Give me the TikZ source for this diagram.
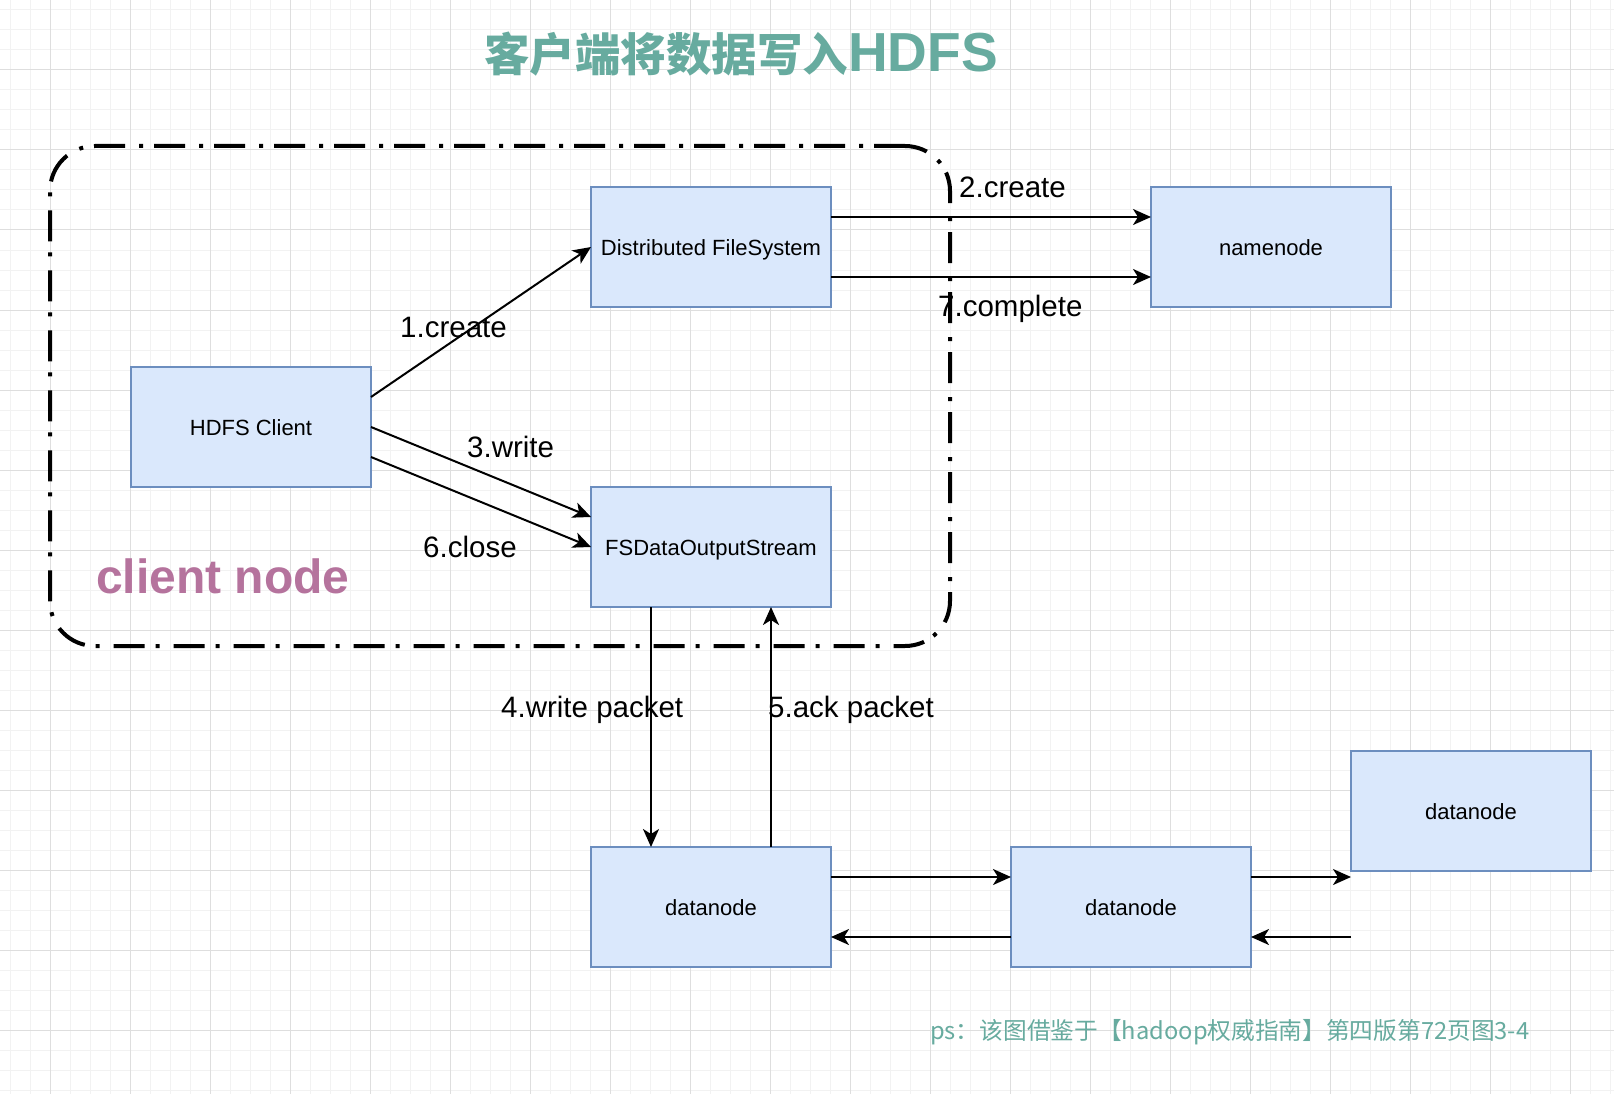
\documentclass[tikz,border=0pt]{standalone}
\usepackage{fontspec}
\setmainfont{Liberation Sans}
\newfontfamily\cjk{Noto Sans CJK SC}
\usetikzlibrary{arrows.meta,calc}
\definecolor{boxfill}{HTML}{DAE8FC}
\definecolor{boxline}{HTML}{6C8EBF}
\definecolor{titlegreen}{HTML}{67AB9F}
\definecolor{nodepurple}{HTML}{B5739D}
\definecolor{gridminor}{HTML}{F2F2F2}
\definecolor{gridmajor}{HTML}{DEDEDE}
\begin{document}
\begin{tikzpicture}[x=1pt,y=-1pt,
  box/.style={draw=boxline, fill=boxfill, line width=2pt, minimum width=240pt, minimum height=120pt,
    inner sep=0pt, outer sep=0pt, font=\fontsize{22}{26}\selectfont, text height=16pt, text depth=0pt},
  conn/.style={line width=2pt, -{Stealth[length=18pt,width=16pt,inset=5pt]}},
  elabel/.style={font=\fontsize{29.5}{34}\selectfont, anchor=base west, inner sep=0pt},
  container/.style={draw, line width=4pt, rounded corners=45pt, minimum width=900pt, minimum height=500pt,
    inner sep=0pt, outer sep=0pt, dash pattern=on 31pt off 11pt on 4pt off 14pt},
  gridmin/.style={draw=gridminor, line width=1pt},
  gridmaj/.style={draw=gridmajor, line width=1pt}]
\fill[white] (0,0) rectangle (1614,1094);
\useasboundingbox (0,0) rectangle (1614,1094);
% grid
\foreach \x in {10,30,...,1610} \draw[gridmin] (\x,0) -- (\x,1094);
\foreach \y in {10,30,...,1090} \draw[gridmin] (0,\y) -- (1614,\y);
\foreach \x in {50,130,...,1610} \draw[gridmaj] (\x,0) -- (\x,1094);
\foreach \y in {70,150,...,1090} \draw[gridmaj] (0,\y) -- (1614,\y);

% container
\node[container] (cn) at (500,396) {};
\node[anchor=base west, inner sep=0pt, text=nodepurple, font=\bfseries\fontsize{48}{52}\selectfont] (cnl) at (96,593) {client node};

% boxes
\node[box] (dfs) at (711,247) {Distributed FileSystem};
\node[box] (nn) at (1271,247) {namenode};
\node[box] (client) at (251,427) {HDFS Client};
\node[box] (out) at (711,547) {FSDataOutputStream};
\node[box] (dn1) at (711,907) {datanode};
\node[box] (dn2) at (1131,907) {datanode};
\node[box] (dn3) at (1471,811) {datanode};

% free ends
\coordinate (d3in) at ($(dn3.south west)+(0,6)$);
\coordinate (d3back) at ($(dn3.south west)+(0,66)$);

% connectors
\draw[conn] ($(client.east)+(0,-30)$) -- (dfs.west);
\draw[conn] ($(dfs.east)+(0,-30)$) -- ($(nn.west)+(0,-30)$);
\draw[conn] ($(dfs.east)+(0,30)$) -- ($(nn.west)+(0,30)$);
\draw[conn] (client.east) -- ($(out.west)+(0,-30)$);
\draw[conn] ($(client.east)+(0,30)$) -- (out.west);
\draw[conn] ($(out.south)+(-60,0)$) -- ($(dn1.north)+(-60,0)$);
\draw[conn] ($(dn1.north)+(60,0)$) -- ($(out.south)+(60,0)$);
\draw[conn] ($(dn1.east)+(0,-30)$) -- ($(dn2.west)+(0,-30)$);
\draw[conn] ($(dn2.west)+(0,30)$) -- ($(dn1.east)+(0,30)$);
\draw[conn] ($(dn2.east)+(0,-30)$) -- (d3in);
\draw[conn] (d3back) -- ($(dn2.east)+(0,30)$);

% labels
\node[elabel] (l1) at (400,337) {1.create};
\node[elabel] (l2) at (959,197) {2.create};
\node[elabel] (l7) at (938,316) {7.complete};
\node[elabel] (l3) at (467,457) {3.write};
\node[elabel] (l6) at (423,557) {6.close};
\node[elabel] (l4) at (501,717) {4.write packet};
\node[elabel] (l5) at (768,717) {5.ack packet};

% title and note
\node[anchor=base west, inner sep=0pt, text=titlegreen] (title) at (484,72)
  {{\cjk\bfseries\fontsize{45.5}{50}\selectfont 客户端将数据写入}{\bfseries\fontsize{55}{60}\selectfont HDFS}};
\node[anchor=base west, inner sep=0pt, text=titlegreen] (ps) at (930,1039)
  {\cjk\fontsize{23.7}{28}\selectfont ps：该图借鉴于【hadoop权威指南】第四版第72页图3-4};
\end{tikzpicture}
\end{document}
